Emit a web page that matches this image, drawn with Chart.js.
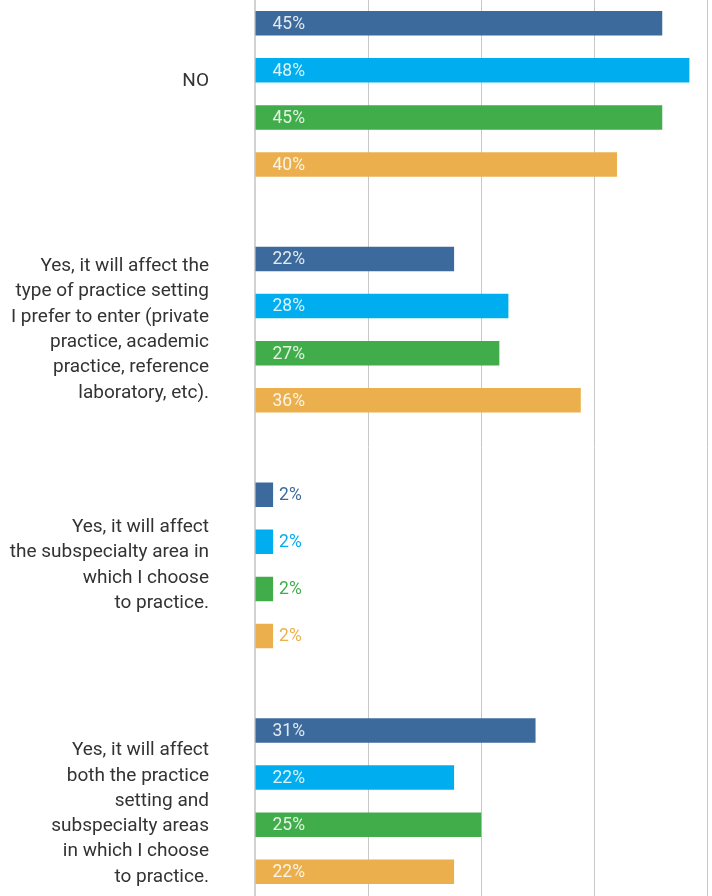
<!DOCTYPE html>
<html>
<head>
<meta charset="utf-8">
<script src="https://cdn.jsdelivr.net/npm/chart.js@4/dist/chart.umd.min.js"></script>
<style>
    html, body { margin: 0; padding: 0; background: #fff; overflow: hidden; }
    #wrap { position: absolute; left: 0; top: -24px; width: 712px; height: 943px; }
</style>
</head>
<body>
<div id="wrap"><canvas id="chart1"></canvas></div>
<script>
// Respostas por grupo
const categories = [
    ['NO', ''],
    ['Yes, it will affect the', 'type of practice setting', 'I prefer to enter (private', 'practice, academic', 'practice, reference', 'laboratory, etc).'],
    ['Yes, it will affect', 'the subspecialty area in', 'which I choose', 'to practice.'],
    ['', 'Yes, it will affect', 'both the practice', 'setting and', 'subspecialty areas', 'in which I choose', 'to practice.']
];
const group1 = [45, 22, 2, 31];
const group2 = [48, 28, 2, 22];
const group3 = [45, 27, 2, 25];
const group4 = [40, 36, 2, 22];
const xTicks = [0, 12.5, 25, 37.5, 50];

const colors = ['#3d6a9c', '#00aeef', '#41ad4a', '#ebb04d'];
const fontFamily = "Roboto, 'Liberation Sans', sans-serif";

// rótulos de valor: dentro da barra (branco) ou depois dela (cor da série)
const valueLabels = {
    id: 'valueLabels',
    afterDatasetsDraw(chart) {
        const ctx = chart.ctx;
        ctx.save();
        ctx.font = '17.5px ' + fontFamily;
        ctx.textBaseline = 'middle';
        ctx.textAlign = 'left';
        chart.data.datasets.forEach((ds, i) => {
            chart.getDatasetMeta(i).data.forEach((bar, j) => {
                const v = ds.data[j];
                if (v >= 10) {
                    ctx.fillStyle = 'rgba(255,255,255,0.85)';
                    ctx.fillText(v + '%', bar.base + 17, bar.y + 1);
                } else {
                    ctx.fillStyle = ds.backgroundColor;
                    ctx.fillText(v + '%', bar.x + 6, bar.y + 1);
                }
            });
        });
        ctx.restore();
    }
};

const ctx1 = document.getElementById('chart1').getContext('2d');
new Chart(ctx1, {
    type: 'bar',
    data: {
        labels: categories,
        datasets: [
            { label: 'Group 1', data: group1, backgroundColor: colors[0] },
            { label: 'Group 2', data: group2, backgroundColor: colors[1] },
            { label: 'Group 3', data: group3, backgroundColor: colors[2] },
            { label: 'Group 4', data: group4, backgroundColor: colors[3] }
        ].map(d => Object.assign(d, { categoryPercentage: 0.8, barPercentage: 0.52 }))
    },
    options: {
        indexAxis: 'y',
        responsive: true,
        maintainAspectRatio: false,
        animation: false,
        layout: { padding: { top: 0, right: 4.5, bottom: 0, left: 0 } },
        plugins: { legend: { display: false }, tooltip: { enabled: false } },
        scales: {
            x: {
                min: 0,
                max: 50,
                afterBuildTicks: scale => { scale.ticks = xTicks.map(v => ({ value: v })); },
                ticks: { display: false },
                grid: { color: '#c8c8c8', lineWidth: 1, drawTicks: false },
                border: { display: false }
            },
            y: {
                grid: { display: false, drawTicks: false },
                border: { display: true, color: '#d2d2d2', width: 2 },
                ticks: {
                    autoSkip: false,
                    padding: 46,
                    color: '#333333',
                    font: { family: fontFamily, size: 19, lineHeight: 1.33 }
                },
                afterFit: scale => {
                    scale.width = 255;
                    // sem folga extra em cima e embaixo
                    scale.paddingTop = 0;
                    scale.paddingBottom = 0;
                }
            }
        }
    },
    plugins: [valueLabels]
});
</script>
</body>
</html>
